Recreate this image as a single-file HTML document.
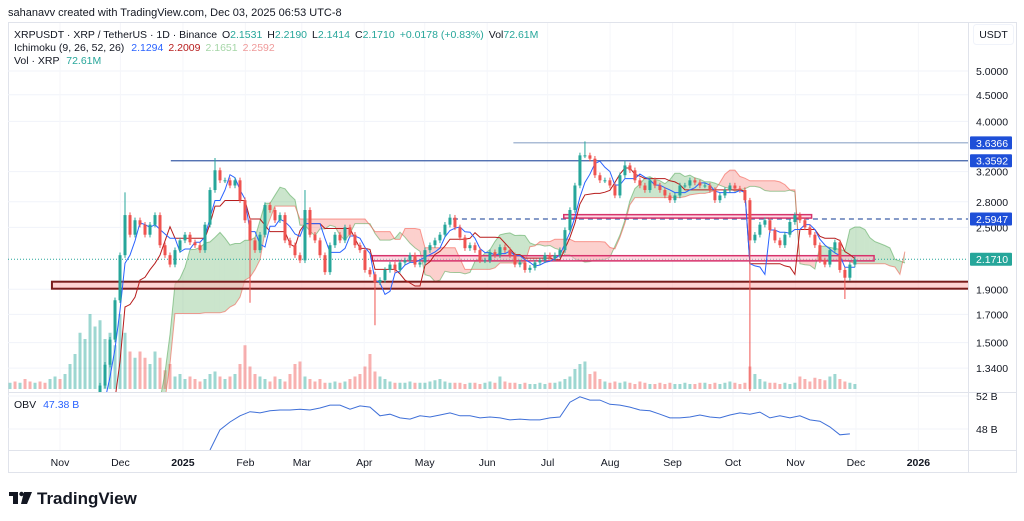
<!DOCTYPE html>
<html><head><meta charset="utf-8">
<style>
html,body{margin:0;padding:0;background:#fff;width:1024px;height:521px;overflow:hidden;}
svg{display:block;font-family:"Liberation Sans",sans-serif;}
</style></head>
<body>
<svg id="chart" width="1024" height="521" viewBox="0 0 1024 521" xmlns="http://www.w3.org/2000/svg">
  <defs>
    <clipPath id="pricePane"><rect x="8" y="23" width="960" height="369"/></clipPath>
    <clipPath id="obvPane"><rect x="8" y="392" width="960" height="58"/></clipPath>
  </defs>
  <rect x="0" y="0" width="1024" height="521" fill="#fff"/>
  <text x="8" y="16" font-size="11" fill="#131722">sahanavv created with TradingView.com, Dec 03, 2025 06:53 UTC-8</text>
  <rect x="8.5" y="22.5" width="1008" height="450" fill="none" stroke="#e0e3eb"/>
  <g id="grid"></g>
  <g id="volume" clip-path="url(#pricePane)"></g>
  <g id="cloud" clip-path="url(#pricePane)"></g>
  <g id="drawings" clip-path="url(#pricePane)"></g>
  <g id="ichi" clip-path="url(#pricePane)"></g>
  <g id="candles" clip-path="url(#pricePane)"></g>
  <g id="obv" clip-path="url(#obvPane)"></g>
  <line x1="968.5" y1="23" x2="968.5" y2="472" stroke="#e0e3eb"/>
  <line x1="8" y1="392.5" x2="1016" y2="392.5" stroke="#e0e3eb"/>
  <line x1="8" y1="450.5" x2="1016" y2="450.5" stroke="#e0e3eb"/>
  <g id="axis"></g>
  <g font-size="10.5">
    <text x="14" y="38" fill="#131722">XRPUSDT · XRP / TetherUS · 1D · Binance <tspan dx="2">O</tspan><tspan fill="#26a69a">2.1531</tspan><tspan dx="5">H</tspan><tspan fill="#26a69a">2.2190</tspan><tspan dx="5">L</tspan><tspan fill="#26a69a">2.1414</tspan><tspan dx="5">C</tspan><tspan fill="#26a69a">2.1710</tspan><tspan dx="5" fill="#26a69a">+0.0178 (+0.83%)</tspan><tspan dx="5">Vol</tspan><tspan fill="#26a69a">72.61M</tspan></text>
    <text x="14" y="51" fill="#131722">Ichimoku (9, 26, 52, 26) <tspan dx="4" fill="#2962ff">2.1294</tspan><tspan dx="5" fill="#b71c1c">2.2009</tspan><tspan dx="5" fill="#a5d6a7">2.1651</tspan><tspan dx="5" fill="#ef9a9a">2.2592</tspan></text>
    <text x="14" y="64" fill="#131722">Vol · XRP <tspan dx="4" fill="#26a69a">72.61M</tspan></text>
    <text x="14" y="408" fill="#131722">OBV <tspan dx="4" fill="#2962ff">47.38 B</tspan></text>
  </g>
  <rect x="973.5" y="24.5" width="40" height="20" rx="3" fill="#fff" stroke="#f0f3fa"/>
  <text x="993.5" y="38" font-size="10.5" text-anchor="middle" fill="#131722">USDT</text>
  <g>
    <rect x="9" y="492" width="9" height="4" fill="#131722"/>
    <rect x="13" y="492" width="5" height="12" fill="#131722"/>
    <circle cx="21.5" cy="494" r="2.2" fill="#131722"/>
    <polygon points="24,492 32,492 27,504 21,504" fill="#131722"/>
    <text x="37" y="504" font-size="17" font-weight="bold" fill="#131722">TradingView</text>
  </g>
</svg>
<script>
const startDate = "2024-10-07";
const startDay = -24.8;
const stepDays = 2.481;
const closes = [
 0.54,0.53,0.55,0.54,0.52,0.53,0.52,0.50,0.51,0.52,0.51,0.51,0.53,0.60,0.64,0.76,1.05,1.10,
 1.24,1.36,1.52,1.81,2.21,2.64,2.42,2.58,2.53,2.42,2.53,2.64,2.31,2.21,2.12,2.26,2.36,2.42,2.34,2.31,2.26,2.53,
 2.95,3.22,3.08,3.08,3.01,3.08,2.82,2.58,2.36,2.26,2.42,2.76,2.70,2.58,2.64,2.36,2.31,2.21,2.16,2.70,
 2.42,2.36,2.21,2.05,2.31,2.42,2.36,2.50,2.42,2.31,2.26,2.07,2.03,1.96,1.98,2.07,2.12,2.07,2.14,2.16,
 2.21,2.12,2.14,2.26,2.31,2.36,2.42,2.53,2.61,2.50,2.39,2.28,2.31,2.26,2.16,2.16,2.24,2.21,2.29,2.26,
 2.21,2.12,2.14,2.07,2.09,2.14,2.16,2.21,2.18,2.21,2.26,2.47,2.70,3.01,3.44,3.44,3.39,3.15,3.08,3.08,
 3.01,2.88,3.15,3.29,3.22,3.08,3.01,2.95,3.08,3.01,2.95,2.88,2.82,2.88,3.01,3.01,3.08,3.05,3.01,3.01,
 2.95,2.82,2.88,2.95,3.01,2.97,2.95,2.82,2.36,2.42,2.53,2.58,2.47,2.36,2.31,2.42,2.56,2.64,2.58,2.50,
 2.42,2.31,2.16,2.12,2.26,2.34,2.07,2.00,2.12,2.17
];
const volumes = [
 5,6,5,8,6,5,6,5,8,10,8,12,20,28,45,40,60,50,
 55,40,45,35,60,45,30,25,30,25,20,30,25,15,20,10,12,8,10,8,6,8,
 12,14,10,8,10,12,20,35,18,12,10,8,6,10,8,6,12,20,22,10,
 8,6,8,5,5,6,5,6,8,10,12,18,28,14,10,8,6,5,5,5,
 6,5,5,5,6,7,8,6,5,5,5,4,5,5,4,5,6,5,10,6,
 5,5,4,5,4,4,5,4,5,5,6,8,10,16,20,22,12,14,8,6,
 5,6,5,6,5,4,6,5,4,4,5,4,5,4,4,5,4,4,5,5,
 4,5,4,5,6,5,4,5,18,12,8,6,5,5,4,5,4,5,10,8,
 6,9,8,7,10,12,8,6,5,4
];
const extremeIdx  = [23,   41,   48,   59,   73,   88,   115,  123,  148,  148,  167];
const extremeHigh = [2.92, 3.40, null, 2.95, null, 2.65, 3.66, 3.36, 2.85, null, null];
const extremeLow  = [null, null, 1.79, null, 1.62, null, null, null, null, 1.21, 1.82];
const obvStartIdx = 40;
const obvStride = 2;
const obvValues = [
 45.45,47.9,48.85,49.6,50.1,49.95,50.2,50.3,50.3,50.4,50.3,50.55,50.9,50.9,50.4,50.8,50.65,49.6,49.8,49.35,
 49.2,49.6,49.45,49.7,49.95,49.6,49.6,49.35,49.45,49.35,49.1,49.2,49.1,49.1,49.35,49.45,51.25,51.9,51.5,51.5,
 51.0,50.9,50.65,50.3,50.2,49.8,49.35,49.35,49.45,49.7,49.45,49.35,49.7,49.95,49.8,50.05,49.35,49.6,49.35,49.6,
 49.1,48.95,48.25,47.3,47.4
];
const priceTicks = [5.0,4.5,4.0,3.2,2.8,2.5,1.9,1.7,1.5,1.34];
const priceTickLabels = ["5.0000","4.5000","4.0000","3.2000","2.8000","2.5000","1.9000","1.7000","1.5000","1.3400"];
const obvTicks = [52,48];
const obvTickLabels = ["52 B","48 B"];
const monthDays = [0,30,61,92,120,151,181,212,242,273,304,334,365,395,426];
const monthLabels = ["Nov","Dec","2025","Feb","Mar","Apr","May","Jun","Jul","Aug","Sep","Oct","Nov","Dec","2026"];
const levelPrices = [3.6366,3.3592,2.5947];
const levelStartDays = [225,55,195];
const currentPrice = 2.171;
const zoneLow = [1.905, 2.605, 2.155];
const zoneHigh = [1.965, 2.645, 2.205];
const zoneStartDays = [-4, 250, 155];
const zoneEndDays = [452, 373, 404];

const NS = "http://www.w3.org/2000/svg";
const xD = d => 60 + d * 2.015;
const xI = i => xD(startDay + i * stepDays);
const yP = p => 71 + (Math.log(5) - Math.log(p)) * 225.6;
const yPc = p => Math.min(400, yP(p));
const yO = v => 396 + (52 - v) * 8.25;
const yOc = v => Math.min(455, yO(v));
const yV = v => 389 - v * 1.25;
function mk(tag, attrs, parent){
  const e = document.createElementNS(NS, tag);
  for (const k in attrs) e.setAttribute(k, attrs[k]);
  parent.appendChild(e);
  return e;
}
const G = id => document.getElementById(id);

const grid = G("grid");
priceTicks.forEach(p => {
  const l = mk("line",{x1:8,x2:968,y1:yP(p),y2:yP(p),stroke:"#f0f3fa"},grid);
  
  
});
obvTicks.forEach(v => {
  const l = mk("line",{x1:8,x2:968,y1:yO(v),y2:yO(v),stroke:"#f0f3fa"},grid);
  
  
});
monthDays.forEach(d => {
  const l = mk("line",{x1:xD(d),x2:xD(d),y1:23,y2:450,stroke:"#f5f6fa"},grid);
  
  
});

const n = closes.length;
const opens = [], highs = [], lows = [];
for (let i = 0; i < n; i++) {
  const o = i === 0 ? closes[0] : closes[i-1];
  opens.push(o);
  highs.push(Math.max(o, closes[i]) * 1.012);
  lows.push(Math.min(o, closes[i]) * 0.988);
}
extremeIdx.forEach((idx, k) => {
  if (extremeHigh[k] !== null) highs[idx] = extremeHigh[k];
  if (extremeLow[k] !== null) lows[idx] = extremeLow[k];
});

const vg = G("volume");
volumes.forEach((v, i) => {
  const up = closes[i] >= opens[i];
  const r = mk("rect",{x:xI(i)-1.5,y:yV(v),width:3,height:389-yV(v),fill:up?"rgba(38,166,154,0.45)":"rgba(239,83,80,0.45)"},vg);
  
  
});

const conv = 4, base = 10, spanBLen = 21, disp = 10;
function mid(i, len){
  let h = -Infinity, l = Infinity;
  for (let j = Math.max(0, i-len+1); j <= i; j++){ h = Math.max(h, highs[j]); l = Math.min(l, lows[j]); }
  return (h + l) / 2;
}
const tenkan = [], kijun = [], spanA = [], spanB = [];
for (let i = 0; i < n; i++){ tenkan.push(mid(i,conv)); kijun.push(mid(i,base)); }
for (let i = 0; i < n; i++){ spanA[i+disp] = (tenkan[i]+kijun[i])/2; spanB[i+disp] = mid(i,spanBLen); }
const cg = G("cloud");
for (let i = disp; i < n + disp - 1; i++){
  const a0 = spanA[i], a1 = spanA[i+1], b0 = spanB[i], b1 = spanB[i+1];
  const green = (a0 + a1) >= (b0 + b1);
  const pg = mk("polygon",{points:`${xI(i)},${yPc(a0)} ${xI(i+1)},${yPc(a1)} ${xI(i+1)},${yPc(b1)} ${xI(i)},${yPc(b0)}`,
    fill:green?"rgba(67,160,71,0.28)":"rgba(244,67,54,0.25)",stroke:"none"},cg);
  
  
}
function pathOf(arr, from, to){
  let d = "";
  for (let i = from; i < to; i++) if (arr[i] !== undefined) d += (d ? "L" : "M") + xI(i).toFixed(1) + "," + yPc(arr[i]).toFixed(1);
  return d;
}
const spA = mk("path",{d:pathOf(spanA,disp,n+disp),fill:"none",stroke:"rgba(67,160,71,0.5)","stroke-width":1},cg);


const spB = mk("path",{d:pathOf(spanB,disp,n+disp),fill:"none",stroke:"rgba(244,67,54,0.5)","stroke-width":1},cg);



const dg = G("drawings");
const lvlColors = ["#8fa6c8","#3d5fa8","#3d5fa8"];
levelPrices.forEach((p, k) => {
  const l = mk("line",{x1:xD(levelStartDays[k]),x2:968,y1:yP(p),y2:yP(p),stroke:lvlColors[k],"stroke-width":1.2},dg);
  if (k === 2) l.setAttribute("stroke-dasharray","5,4");
  
  
});
const cp = mk("line",{x1:8,x2:968,y1:yP(currentPrice),y2:yP(currentPrice),stroke:"#26a69a","stroke-dasharray":"1,2","stroke-width":1},dg);


zoneLow.forEach((lo, k) => {
  const main = k === 0;
  const r = mk("rect",{x:xD(zoneStartDays[k]),y:yP(zoneHigh[k]),width:xD(zoneEndDays[k])-xD(zoneStartDays[k]),height:yP(lo)-yP(zoneHigh[k]),
    fill:main?"rgba(255,182,182,0.6)":"rgba(255,182,200,0.5)",stroke:main?"#7a1c1c":"#d6336c","stroke-width":main?2:1.5},dg);
  
  
});

const ig = G("ichi");
const kl = mk("path",{d:pathOf(kijun,0,n),fill:"none",stroke:"#b71c1c","stroke-width":1},ig);


const tl = mk("path",{d:pathOf(tenkan,0,n),fill:"none",stroke:"#2962ff","stroke-width":1},ig);



const cdg = G("candles");
for (let i = 0; i < n; i++){
  const up = closes[i] >= opens[i];
  const col = up ? "#26a69a" : "#ef5350";
  const x = xI(i);
  const w = mk("line",{x1:x,x2:x,y1:yPc(highs[i]),y2:yPc(lows[i]),stroke:col,"stroke-width":1},cdg);
  
  
  const top = yPc(Math.max(opens[i],closes[i])), bot = yPc(Math.min(opens[i],closes[i]));
  const b = mk("rect",{x:x-1.5,y:top,width:3,height:Math.max(1,bot-top),fill:col},cdg);
  
  
}

const og = G("obv");
let od = "";
obvValues.forEach((v, k) => { od += (k ? "L" : "M") + xI(obvStartIdx + k*obvStride).toFixed(1) + "," + yOc(v).toFixed(1); });
const ol = mk("path",{d:od,fill:"none",stroke:"#3e6fd8","stroke-width":1},og);



const ag = G("axis");
priceTicks.forEach((p, k) => {
  const t = mk("text",{x:976,y:yP(p)+4,"font-size":10.5,fill:"#131722"},ag);
  t.textContent = priceTickLabels[k];
  
  
});
obvTicks.forEach((v, k) => {
  const t = mk("text",{x:976,y:yO(v)+4,"font-size":10.5,fill:"#131722"},ag);
  t.textContent = obvTickLabels[k];
  
  
});
const boxPrices = [3.6366,3.3592,2.5947,2.171];
const boxColors = ["#1e4fd8","#1e4fd8","#1e4fd8","#26a69a"];
boxPrices.forEach((p, k) => {
  const r = mk("rect",{x:970,y:yP(p)-6.5,width:42,height:13,rx:1,fill:boxColors[k]},ag);
  
  
  const t = mk("text",{x:976,y:yP(p)+4,"font-size":10.5,fill:"#fff"},ag);
  t.textContent = p.toFixed(4);
  
  
});
monthDays.forEach((d, k) => {
  const bold = /^\d{4}$/.test(monthLabels[k]);
  const t = mk("text",{x:xD(d),y:466,"font-size":10.5,"text-anchor":"middle",fill:"#131722","font-weight":bold?"bold":"normal"},ag);
  t.textContent = monthLabels[k];
  
  
});
</script>
</body></html>
